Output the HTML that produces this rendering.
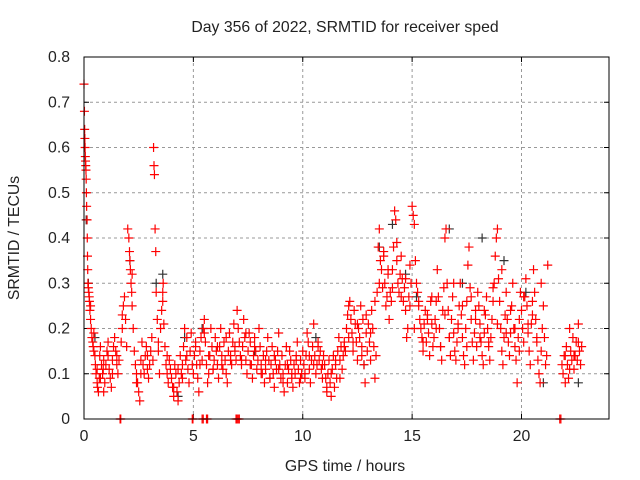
<!DOCTYPE html>
<html><head><meta charset="utf-8"><style>
html,body{margin:0;padding:0;background:#fff}
svg{display:block}
text{font-family:"Liberation Sans",sans-serif;font-size:15.8px;fill:#222}
</style></head><body>
<svg id="chart" width="640" height="480" viewBox="0 0 640 480" xmlns="http://www.w3.org/2000/svg">
<text x="345" y="32" text-anchor="middle">Day 356 of 2022, SRMTID for receiver sped</text>
<text x="345" y="471" text-anchor="middle">GPS time / hours</text>
<text transform="translate(19,238) rotate(-90)" text-anchor="middle">SRMTID / TECUs</text>
<g id="grid"></g>
<g id="ticks"></g>
<g id="black"></g>
<g id="red"></g>
<rect x="84" y="57" width="525" height="362" fill="none" stroke="#000" stroke-width="1"/>
</svg>
<script>
const xTicks=[0,5,10,15,20];
const yTicks=[0,0.1,0.2,0.3,0.4,0.5,0.6,0.7,0.8];
const yTickLabels=["0","0.1","0.2","0.3","0.4","0.5","0.6","0.7","0.8"];
const redHours=[0,0.02,0.03,0.04,0.05,0.06,0.07,0.08,0.09,0.1,0.11,0.12,0.14,0.15,0.16,0.17,0.18,0.2,0.22,0.24,0.25,0.27,0.3,
0.33,0.36,0.4,0.42,0.45,0.5,0.52,0.55,0.6,0.62,0.66,0.7,0.72,0.75,0.8,0.85,0.88,0.9,
0.95,1.0,1.05,1.1,1.15,1.2,1.25,1.3,1.35,1.4,1.45,1.5,1.55,1.6,1.7,1.75,1.8,1.85,1.9,1.95,
2.0,2.05,2.08,2.1,2.12,2.15,2.18,2.2,2.25,2.3,2.35,2.4,2.45,2.5,2.55,2.6,2.65,2.7,2.75,2.8,2.85,2.9,2.95,
3.0,3.05,3.1,3.15,3.18,3.2,3.22,3.25,3.28,3.3,3.35,3.4,3.45,3.5,3.55,3.6,3.62,3.65,3.7,3.75,3.8,3.85,3.9,3.95,
4.0,4.05,4.1,4.15,4.2,4.25,4.3,4.35,4.4,4.45,4.5,4.55,4.6,4.65,4.7,4.75,4.8,4.85,4.9,4.95,
5.0,5.05,5.1,5.15,5.2,5.25,5.3,5.35,5.4,5.45,5.5,5.55,5.6,5.65,5.7,5.75,5.8,5.85,5.9,5.95,
6.0,6.05,6.1,6.15,6.2,6.25,6.3,6.35,6.4,6.45,6.5,6.55,6.6,6.65,6.7,6.75,6.8,6.85,6.9,6.95,
7.0,7.05,7.1,7.15,7.2,7.25,7.3,7.35,7.4,7.45,7.5,7.55,7.6,7.65,7.7,7.75,7.8,7.85,7.9,7.95,
8.0,8.05,8.1,8.15,8.2,8.25,8.3,8.35,8.4,8.45,8.5,8.55,8.6,8.65,8.7,8.75,8.8,8.85,8.9,8.95,
9.0,9.05,9.1,9.15,9.2,9.25,9.3,9.35,9.4,9.45,9.5,9.55,9.6,9.65,9.7,9.75,9.8,9.85,9.9,9.95,
10.0,10.05,10.1,10.15,10.2,10.25,10.3,10.35,10.4,10.45,10.5,10.55,10.6,10.65,10.7,10.75,10.8,10.85,10.9,10.95,
11.0,11.05,11.1,11.15,11.2,11.25,11.3,11.35,11.4,11.45,11.5,11.55,11.6,11.65,11.7,11.75,11.8,11.85,11.9,11.95,
12.0,12.05,12.1,12.15,12.2,12.25,12.3,12.35,12.4,12.45,12.5,12.55,12.6,12.65,12.7,12.75,12.8,12.85,12.9,12.95,
13.0,13.05,13.1,13.15,13.2,13.25,13.3,13.35,13.4,13.45,13.5,13.55,13.6,13.65,13.7,13.75,13.8,13.85,13.9,13.95,
14.0,14.05,14.1,14.15,14.2,14.25,14.3,14.35,14.4,14.45,14.5,14.55,14.6,14.65,14.7,14.75,14.8,14.85,14.9,14.95,
15.0,15.05,15.1,15.15,15.2,15.25,15.3,15.35,15.4,15.45,15.5,15.55,15.6,15.65,15.7,15.75,15.8,15.85,15.9,15.95,
16.0,16.05,16.1,16.15,16.2,16.25,16.3,16.35,16.4,16.45,16.5,16.55,16.6,16.65,16.7,16.75,16.8,16.85,16.9,16.95,
17.0,17.05,17.1,17.15,17.2,17.25,17.3,17.35,17.4,17.45,17.5,17.55,17.6,17.65,17.7,17.75,17.8,17.85,17.9,17.95,
18.0,18.05,18.1,18.15,18.2,18.25,18.3,18.35,18.4,18.45,18.5,18.55,18.6,18.65,18.7,18.75,18.8,18.85,18.9,18.95,
19.0,19.05,19.1,19.15,19.2,19.25,19.3,19.35,19.4,19.45,19.5,19.55,19.6,19.65,19.7,19.75,19.8,19.85,19.9,19.95,
20.0,20.05,20.1,20.15,20.2,20.25,20.3,20.35,20.4,20.45,20.5,20.55,20.6,20.65,20.7,20.75,20.8,20.85,20.9,20.95,21.0,21.05,21.1,21.15,21.2,
21.85,21.9,21.95,22.0,22.05,22.1,22.15,22.2,22.25,22.3,22.35,22.4,22.45,22.5,22.55,22.6,22.65,22.7,22.75,
1.65,1.68,4.95,4.98,5.4,5.45,5.6,5.65,6.95,7.0,7.05,7.1,21.75,21.8];
const redValues=[0.74,0.68,0.64,0.62,0.6,0.58,0.57,0.56,0.55,0.53,0.5,0.47,0.44,0.4,0.36,0.33,0.3,0.29,0.28,0.27,0.26,0.24,0.22,
0.2,0.18,0.17,0.16,0.15,0.14,0.12,0.1,0.08,0.07,0.06,0.09,0.14,0.16,0.12,0.1,0.11,0.13,
0.08,0.12,0.15,0.14,0.11,0.09,0.07,0.13,0.16,0.18,0.15,0.12,0.1,0.13,0.17,0.2,0.25,0.27,0.22,0.16,
0.42,0.4,0.37,0.35,0.33,0.3,0.28,0.25,0.2,0.15,0.12,0.1,0.08,0.06,0.04,0.13,0.17,0.12,0.1,0.14,0.16,0.11,0.09,
0.12,0.15,0.18,0.13,0.6,0.56,0.54,0.42,0.37,0.28,0.22,0.15,0.1,0.2,0.24,0.28,0.3,0.21,0.16,0.12,0.1,0.08,0.13,0.11,
0.09,0.07,0.05,0.12,0.1,0.06,0.04,0.08,0.14,0.1,0.12,0.16,0.2,0.13,0.18,0.11,0.08,0.15,0.19,0.12,
0.1,0.14,0.16,0.12,0.09,0.06,0.15,0.18,0.13,0.2,0.22,0.17,0.12,0.08,0.1,0.14,0.2,0.16,0.11,0.13,
0.18,0.15,0.12,0.09,0.16,0.2,0.14,0.11,0.17,0.13,0.1,0.08,0.15,0.19,0.14,0.12,0.17,0.21,0.16,0.13,
0.24,0.2,0.17,0.14,0.12,0.16,0.22,0.18,0.13,0.1,0.15,0.19,0.17,0.12,0.09,0.14,0.18,0.15,0.11,0.13,
0.2,0.16,0.12,0.1,0.14,0.08,0.11,0.15,0.18,0.13,0.09,0.12,0.16,0.1,0.07,0.13,0.11,0.15,0.19,0.12,
0.09,0.14,0.1,0.06,0.12,0.16,0.08,0.11,0.15,0.13,0.09,0.07,0.12,0.1,0.14,0.17,0.11,0.08,0.13,0.1,
0.15,0.12,0.09,0.14,0.19,0.17,0.11,0.08,0.13,0.16,0.21,0.14,0.1,0.12,0.17,0.13,0.15,0.11,0.09,0.14,
0.12,0.09,0.06,0.1,0.13,0.08,0.05,0.11,0.14,0.07,0.12,0.09,0.15,0.18,0.13,0.16,0.11,0.14,0.17,0.15,
0.2,0.23,0.18,0.26,0.22,0.19,0.15,0.24,0.21,0.17,0.13,0.2,0.18,0.25,0.16,0.22,0.12,0.08,0.19,0.15,
0.21,0.17,0.13,0.24,0.2,0.16,0.09,0.14,0.28,0.38,0.42,0.35,0.33,0.29,0.36,0.3,0.25,0.27,0.32,0.22,
0.28,0.26,0.33,0.38,0.46,0.44,0.35,0.3,0.28,0.32,0.36,0.31,0.26,0.29,0.24,0.18,0.2,0.27,0.34,0.3,
0.47,0.45,0.43,0.35,0.3,0.28,0.26,0.22,0.2,0.18,0.15,0.21,0.24,0.17,0.23,0.19,0.14,0.26,0.21,0.16,
0.18,0.22,0.26,0.33,0.27,0.2,0.16,0.13,0.24,0.29,0.4,0.42,0.3,0.24,0.18,0.14,0.22,0.27,0.19,0.15,
0.13,0.17,0.21,0.25,0.3,0.23,0.18,0.14,0.12,0.2,0.26,0.34,0.38,0.29,0.22,0.17,0.13,0.19,0.24,0.16,
0.28,0.25,0.21,0.17,0.14,0.12,0.19,0.23,0.27,0.2,0.16,0.13,0.18,0.22,0.26,0.3,0.36,0.4,0.42,0.31,
0.26,0.2,0.15,0.12,0.18,0.23,0.28,0.22,0.17,0.14,0.19,0.25,0.3,0.2,0.16,0.13,0.08,0.18,0.22,0.28,
0.24,0.2,0.17,0.27,0.31,0.25,0.19,0.15,0.12,0.21,0.26,0.33,0.28,0.22,0.17,0.13,0.1,0.08,0.15,0.2,0.25,0.18,0.12,0.14,0.34,
0.12,0.1,0.14,0.08,0.16,0.12,0.09,0.2,0.15,0.13,0.18,0.11,0.14,0.17,0.13,0.21,0.15,0.12,0.16,
0,0,0,0,0,0,0,0,0,0,0,0,0,0];
const extraHours=[0.3,0.45,0.6,0.75,0.9,1.1,1.3,1.5,1.75,2.2,2.4,2.6,2.9,3.4,3.6,3.8,4.1,4.3,4.5,4.7,
5.1,5.3,5.5,5.7,5.9,6.1,6.3,6.5,6.7,6.9,7.2,7.4,7.6,7.8,8.1,8.3,8.5,8.7,8.9,9.1,9.3,9.5,9.7,9.9,
10.1,10.3,10.5,10.7,10.9,11.1,11.3,11.5,11.7,11.9,12.1,12.3,12.5,12.7,12.9,13.1,13.3,13.5,13.7,13.9,
14.1,14.3,14.5,14.7,14.9,15.1,15.3,15.5,15.7,15.9,16.1,16.3,16.5,16.7,16.9,17.1,17.3,17.5,17.7,17.9,
18.1,18.3,18.5,18.7,18.9,19.1,19.3,19.5,19.7,19.9,20.1,20.3,20.5,20.7,20.9,22.0,22.2,22.4,22.6];
const extraValues=[0.25,0.19,0.11,0.09,0.06,0.17,0.1,0.14,0.23,0.32,0.08,0.1,0.14,0.17,0.26,0.14,0.07,0.11,0.09,0.14,
0.17,0.12,0.19,0.14,0.11,0.16,0.12,0.18,0.13,0.15,0.13,0.19,0.12,0.16,0.1,0.13,0.09,0.14,0.11,0.08,
0.12,0.1,0.13,0.09,0.1,0.14,0.12,0.16,0.12,0.07,0.1,0.13,0.09,0.16,0.25,0.17,0.21,0.14,0.23,0.19,
0.26,0.3,0.37,0.33,0.29,0.39,0.27,0.31,0.25,0.2,0.25,0.17,0.22,0.27,0.2,0.16,0.23,0.18,0.3,0.2,
0.25,0.16,0.27,0.22,0.18,0.24,0.17,0.29,0.21,0.33,0.19,0.24,0.2,0.15,0.27,0.21,0.23,0.18,0.3,0.14,
0.11,0.14,0.17,0.13,0.15];
const blackHours=[0.1,0.2,0.5,2.1,3.3,3.6,4.3,4.6,5.4,7.8,10.6,12.8,13.5,14.1,14.7,15.2,16.7,17.3,18.2,19.2,20.2,21.0,22.6];
const blackValues=[0.44,0.3,0.18,0.35,0.3,0.32,0.05,0.18,0.2,0.15,0.18,0.12,0.38,0.43,0.32,0.27,0.42,0.3,0.4,0.35,0.28,0.08,0.08];

const L=84,R=609,T=57,B=419,XMAX=24,YMAX=0.8;
function xs(h){return L+h/XMAX*(R-L);}
function ys(v){return B-v/YMAX*(B-T);}
const NS='http://www.w3.org/2000/svg';
const grid=document.getElementById('grid'),ticks=document.getElementById('ticks');
function mk(tag,attrs,parent){const e=document.createElementNS(NS,tag);for(const k in attrs)e.setAttribute(k,attrs[k]);parent.appendChild(e);return e;}
xTicks.forEach(function(t){
  const x=xs(t);
  if(t>0){const g=mk('line',{x1:x,y1:T,x2:x,y2:B,stroke:'#999','stroke-dasharray':'3,3'},grid);
  
  }
  const tk=mk('path',{d:'M'+x+' '+B+'v-5M'+x+' '+T+'v5',stroke:'#000'},ticks);
  
  
  const lb=mk('text',{x:x,y:B+22,'text-anchor':'middle'},ticks);lb.textContent=String(t);
  
  
});
yTicks.forEach(function(t,i){
  const y=ys(t);
  if(t>0&&t<YMAX){const g=mk('line',{x1:L,y1:y,x2:R,y2:y,stroke:'#999','stroke-dasharray':'3,3'},grid);
  
  }
  const tk=mk('path',{d:'M'+L+' '+y+'h5M'+R+' '+y+'h-5',stroke:'#000'},ticks);
  
  
  const lb=mk('text',{x:L-14,y:y+5,'text-anchor':'end'},ticks);lb.textContent=yTickLabels[i];
  
  
});
function plus(hs,vs,col,gid){
  const g=document.getElementById(gid);
  hs.forEach(function(h,i){
    const x=xs(h),y=ys(vs[i]);
    const p=mk('path',{d:'M'+(x-4.5)+' '+y+'h9M'+x+' '+(y-4.5)+'v9',stroke:col,'stroke-width':1.2},g);
    
    
  });
}
plus(blackHours,blackValues,'#333','black');
plus(redHours,redValues,'#f00','red');
plus(extraHours,extraValues,'#f00','red');
</script>
</body></html>
